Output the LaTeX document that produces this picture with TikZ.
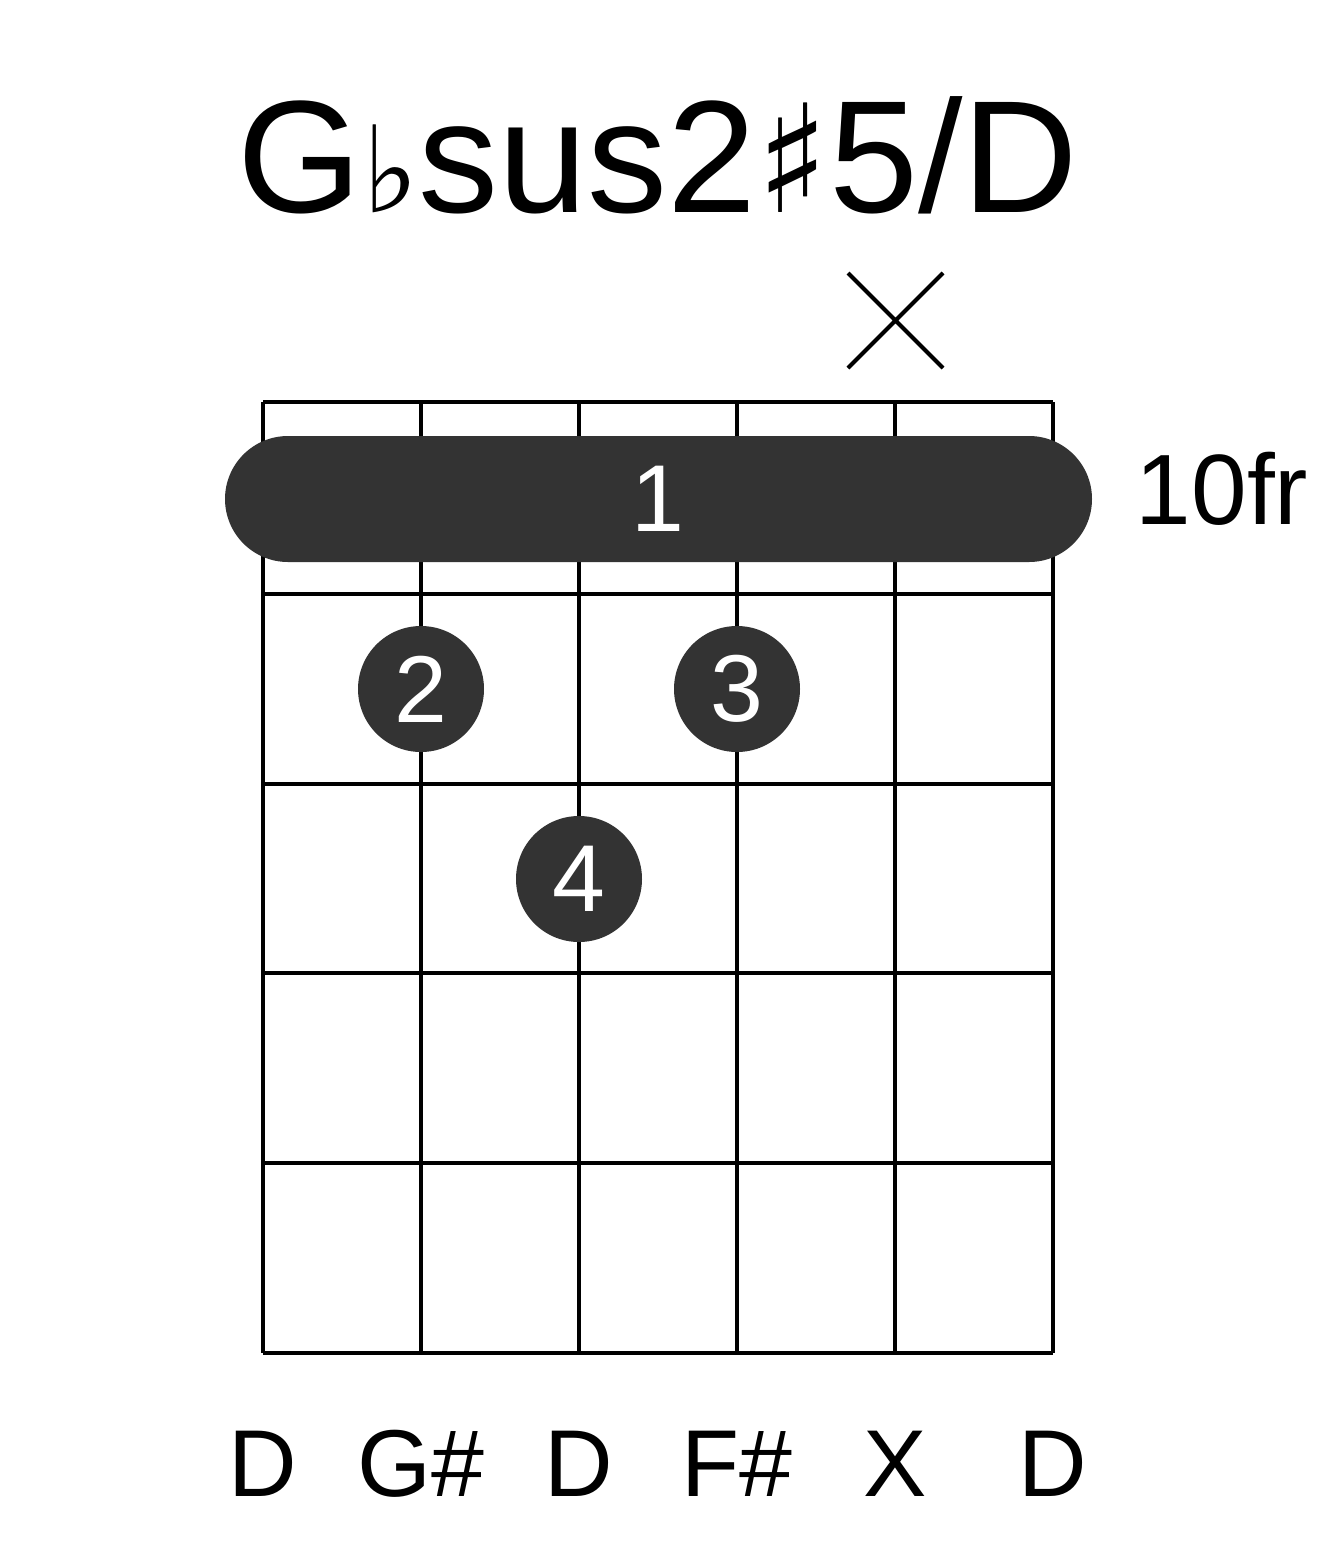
\documentclass[tikz,border=0pt]{standalone}
\usepackage{fontspec}
\setmainfont{Liberation Sans}
\newfontfamily\symfont{DejaVu Sans}
\definecolor{dotc}{HTML}{333333}
\begin{document}
\begin{tikzpicture}[x=1pt,y=-1pt,
  gridline/.style={line width=4pt,black},
  fingerdot/.style={circle,fill=dotc,minimum size=126pt,inner sep=0pt,text=white,font=\fontsize{95}{95}\selectfont},
  bottomlbl/.style={font=\fontsize{95}{95}\selectfont,anchor=base}]
\useasboundingbox (0,0) rectangle (1317,1551);
\foreach \x in {263,421,579,737,895,1053} \draw[gridline] (\x,402) -- (\x,1353);
\foreach \y in {402,594,784,973,1163,1353} \draw[gridline] (263,\y) -- (1053,\y);
\fill[dotc,rounded corners=63pt] (225,436) rectangle (1092,562);
\node[text=white,font=\fontsize{95}{95}\selectfont] (b1) at (658,499) {1};
\node[fingerdot] (d2) at (421,689) {2};
\node[fingerdot] (d3) at (737,689) {3};
\node[fingerdot] (d4) at (579,879) {4};
\draw[line width=4pt] (848,273) -- (943,368) (943,273) -- (848,368);
\node[font=\fontsize{160}{160}\selectfont] (title) at (658,155) {G{\symfont\fontsize{120}{120}\selectfont ♭}sus2{\symfont\fontsize{150}{150}\selectfont ♯}5/D};
\node[font=\fontsize{100}{100}\selectfont] (fr) at (1222,489) {10fr};
\foreach \x/\t [count=\i] in {263/D,421/G\#,579/D,737/F\#,895/X,1053/D}
  \node[bottomlbl] (n\i) at (\x,1496) {\t};
\end{tikzpicture}
\end{document}
